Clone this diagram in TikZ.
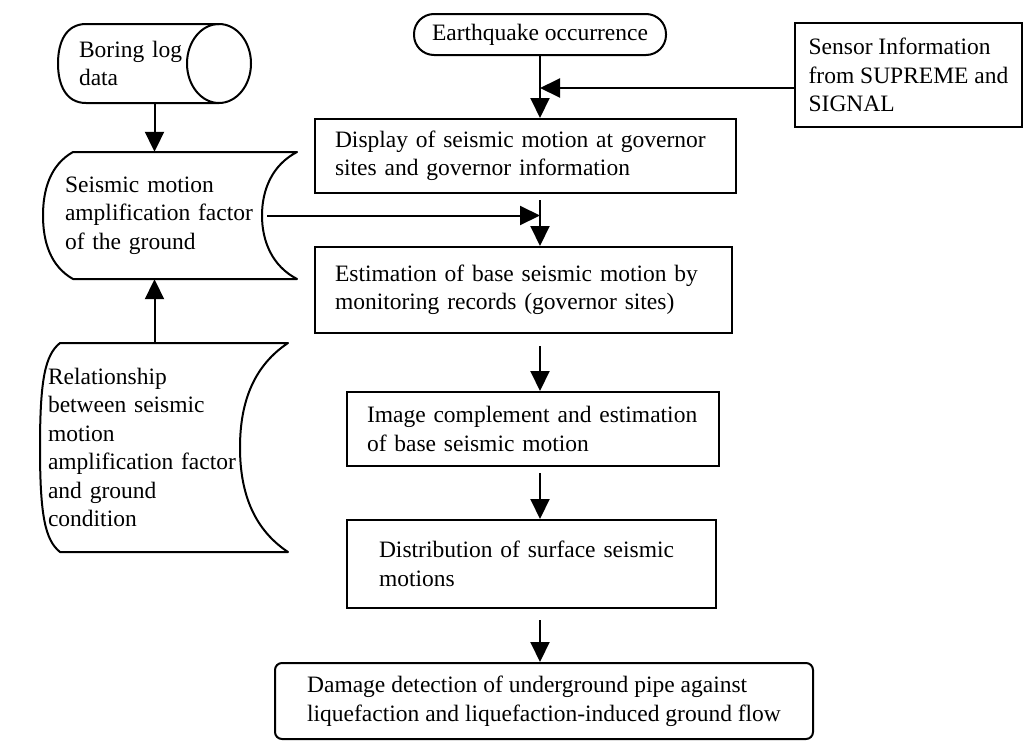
\documentclass[tikz,border=0pt]{standalone}
\usepackage{fontspec}
\setmainfont{Liberation Serif}
\usetikzlibrary{arrows.meta,calc}
\begin{document}
\begin{tikzpicture}[x=1pt,y=-1pt,
  every node/.style={font=\fontsize{23.5}{28.5}\selectfont, inner sep=0pt},
  proc/.style={draw, line width=2pt, rectangle, align=left},
  ghost/.style={rectangle, align=left},
  arr/.style={-{Triangle[length=20pt,width=19pt]}, line width=2pt},
  outline/.style={line width=2pt, line join=round}]
\useasboundingbox (0,0) rectangle (1024,742);

% main column
\node[proc, rounded corners=20pt, minimum width=252pt, minimum height=41pt] (eq) at (540,34.5) {Earthquake occurrence};
\node[proc, minimum width=227pt, minimum height=104pt] (sens) at (908.5,75) {Sensor Information\\from SUPREME and\\SIGNAL};
\node[proc, minimum width=421pt, minimum height=74pt, text width=381pt] (disp) at (525.5,156) {Display of seismic motion at governor\\sites and governor information};
\node[proc, minimum width=417pt, minimum height=86pt, text width=377pt] (est) at (523.5,290) {Estimation of base seismic motion by\\monitoring records (governor sites)};
\node[proc, minimum width=372pt, minimum height=74pt, text width=332pt] (img) at (533,429) {Image complement and estimation\\of base seismic motion};
\node[proc, minimum width=369pt, minimum height=88pt, text width=305pt] (dist) at (531.5,564) {Distribution of surface seismic\\motions};
\node[proc, rounded corners=7pt, minimum width=538pt, minimum height=76pt] (dmg) at (544,701) {Damage detection of underground pipe against\\liquefaction and liquefaction-induced ground flow};

% left column (text holders)
\node[ghost, minimum width=193pt, minimum height=79pt, text width=151pt] (bor) at (154.5,63.5) {Boring log\\data};
\node[ghost, minimum width=254pt, minimum height=127pt, text width=210pt] (amp) at (170,215.5) {Seismic motion\\amplification factor\\of the ground};
\node[ghost, minimum width=248pt, minimum height=209pt, text width=232pt] (rel) at (164,447.5) {Relationship\\between seismic\\motion\\amplification factor\\and ground\\condition};

% cylinder outline
\draw[outline] (86,24) -- (219,24) (219,103) -- (86,103)
  .. controls (66,103) and (58,85) .. (58,63.5)
  .. controls (58,42) and (66,24) .. (86,24);
\draw[outline] (219,63.5) ellipse [x radius=32pt, y radius=39.5pt];

% stored-data outlines
\draw[outline] (73,152) -- (297,152)
  .. controls (272,165) and (262,190) .. (262,215.5)
  .. controls (262,241) and (272,266) .. (297,279)
  -- (73,279)
  .. controls (50,266) and (43,241) .. (43,215.5)
  .. controls (43,190) and (50,165) .. (73,152) -- cycle;
\draw[outline] (60,343) -- (288,343)
  .. controls (255,365) and (240,400) .. (240,447.5)
  .. controls (240,495) and (255,530) .. (288,552)
  -- (60,552)
  .. controls (45,540) and (40,515) .. (40,447.5)
  .. controls (40,380) and (45,355) .. (60,343) -- cycle;

% connectors
\coordinate (sin) at ([yshift=-13pt]sens.west);
\coordinate (aout) at ([xshift=-30pt]amp.east);
\draw[arr] (eq.south) -- (eq.south |- disp.north);
\draw[arr] (sin) -- (sin -| eq.south);
\draw[arr, shorten <=6pt] (disp.south -| eq.south) -- (est.north -| eq.south);
\draw[arr] (aout) -- (aout -| eq.south);
\draw[arr, shorten <=12pt] (est.south -| eq.south) -- (img.north -| eq.south);
\draw[arr, shorten <=6pt] (img.south -| eq.south) -- (dist.north -| eq.south);
\draw[arr, shorten <=11pt] (dist.south -| eq.south) -- (dmg.north -| eq.south);
\draw[arr] (bor.south) -- (bor.south |- amp.north);
\draw[arr] (rel.north -| bor.south) -- (amp.south -| bor.south);
\end{tikzpicture}
\end{document}
